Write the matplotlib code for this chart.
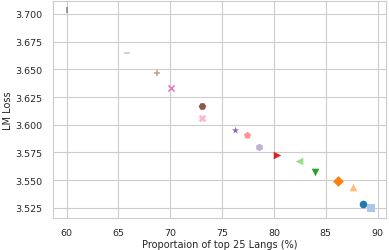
import matplotlib
matplotlib.use("Agg")
import matplotlib.pyplot as plt
import seaborn as sns

sns.set_theme(style="whitegrid")
plt.rcParams['font.family'] = ['DejaVu Sans']

# proportion of top 25 languages (%) and LM loss per run
props = [88.6, 89.35, 86.2, 87.6, 83.94, 82.43, 80.25, 77.42,
         76.26, 78.57, 73.08, 68.68, 70.03, 73.08, 60.0, 65.81]
losses = [3.5286, 3.5247, 3.5496, 3.5437, 3.5578, 3.5671, 3.5726, 3.5909,
          3.5954, 3.5798, 3.6168, 3.6470, 3.6332, 3.6060, 3.7036, 3.6645]
markers = ['o', 's', 'D', '^', 'v', '<', '>', 'p',
           '*', 'h', 'H', '+', 'x', 'X', '|', '_']

colors = sns.color_palette("tab20", len(props))

fig, ax = plt.subplots(figsize=(3.89, 2.51), dpi=100)
fig.subplots_adjust(left=0.136, right=0.992, top=0.992, bottom=0.128)

for i in range(len(props)):
    m = markers[i]
    if m in ['+', 'x', '|', '_']:
        ax.scatter(props[i], losses[i], marker=m, color=colors[i], s=20, linewidths=1.1)
    else:
        ax.scatter(props[i], losses[i], marker=m, color=colors[i], s=30, linewidths=0)

ax.set_xlim(58.68, 90.8)
ax.set_ylim(3.516, 3.7117)
ax.set_xticks([60, 65, 70, 75, 80, 85, 90])
ax.set_yticks([3.525, 3.55, 3.575, 3.6, 3.625, 3.65, 3.675, 3.7])
ax.yaxis.set_major_formatter(matplotlib.ticker.FormatStrFormatter('%.3f'))
ax.tick_params(labelsize=6.8, pad=1.5)
ax.grid(linewidth=0.8)
for sp in ax.spines.values():
    sp.set_linewidth(0.8)
ax.set_xlabel('Proportaion of top 25 Langs (%)', fontsize=7, labelpad=1.5)
ax.set_ylabel('LM Loss', fontsize=7, labelpad=1.5)

fig.savefig('out.png', dpi=100)
